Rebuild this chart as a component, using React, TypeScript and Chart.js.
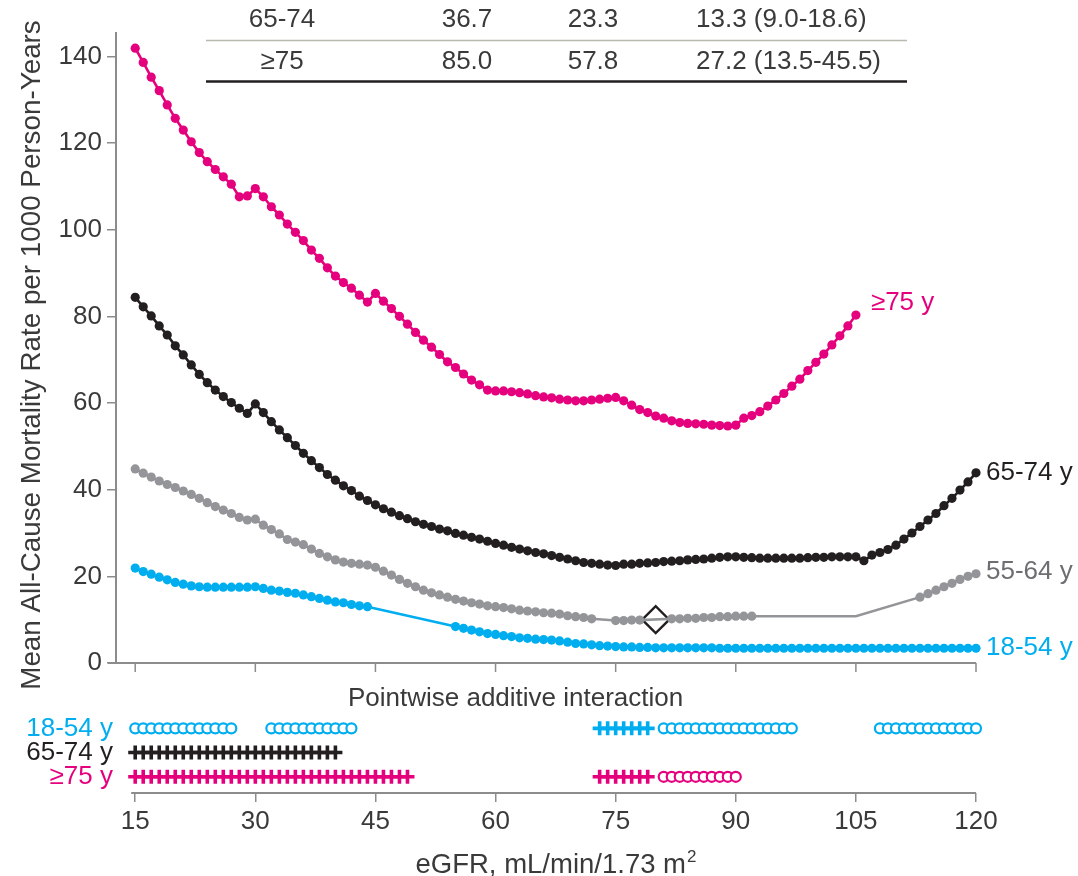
import React, { useEffect, useRef } from 'react';
import { Chart, registerables } from 'chart.js';

Chart.register(...registerables);

const FONT = "'Liberation Sans', Arial, Helvetica, sans-serif";
const TEXT = '#3a3a3a';
const AXIS = '#8c8c8c';
const PINK = '#e5007d';
const BLACK = '#231f20';
const GRAY = '#939598';
const CYAN = '#00aeef';

// eGFR grid, one estimate per mL/min/1.73 m²
const egfr = Array.from({ length: 106 }, (_, i) => 15 + i);

// Mean all-cause mortality rate per 1000 person-years, by age group (null = no estimate)
const rate1854 = [
  21.9, 21.1, 20.5, 19.8, 19.2, 18.6, 18.2, 17.8, 17.6, 17.5,
  17.5, 17.5, 17.5, 17.5, 17.5, 17.6, 17.2, 16.8, 16.6, 16.3,
  16.1, 15.7, 15.3, 14.9, 14.5, 14.1, 13.9, 13.5, 13.2, 13.0,
  null, null, null, null, null, null, null, null, null, null,
  8.4, 8.0, 7.6, 7.2, 6.8, 6.6, 6.3, 6.1, 5.8, 5.7,
  5.5, 5.4, 5.3, 5.1, 4.8, 4.5, 4.4, 4.2, 4.0, 3.9,
  3.8, 3.7, 3.7, 3.6, 3.6, 3.5, 3.5, 3.5, 3.5, 3.5,
  3.5, 3.5, 3.5, 3.4, 3.4, 3.4, 3.4, 3.4, 3.4, 3.4,
  3.4, 3.4, 3.4, 3.4, 3.4, 3.4, 3.4, 3.4, 3.4, 3.4,
  3.4, 3.4, 3.4, 3.4, 3.4, 3.4, 3.4, 3.4, 3.4, 3.4,
  3.4, 3.4, 3.4, 3.4, 3.4, 3.4,
];

const rate5564 = [
  44.8, 43.8, 42.9, 42.0, 41.2, 40.5, 39.7, 38.9, 38.0, 37.0,
  36.1, 35.3, 34.5, 33.6, 33.0, 33.2, 31.8, 30.8, 29.8, 28.5,
  27.9, 27.3, 26.3, 25.3, 24.5, 23.8, 23.3, 23.0, 22.8, 22.6,
  22.1, 21.2, 20.3, 19.3, 18.4, 17.6, 16.8, 16.2, 15.7, 15.2,
  14.7, 14.3, 13.9, 13.6, 13.2, 13.0, 12.8, 12.5, 12.2, 12.0,
  11.8, 11.6, 11.5, 11.3, 10.9, 10.7, 10.5, 10.2, null, null,
  9.8, 9.8, 9.9, 9.9, null, null, null, 10.2, 10.2, 10.3,
  10.3, 10.5, 10.5, 10.7, 10.7, 10.8, 10.8, 10.8, null, null,
  null, null, null, null, null, null, null, null, null, null,
  10.8, null, null, null, null, null, null, null, 15.2, 16.0,
  16.8, 17.6, 18.4, 19.3, 20.0, 20.6,
];
// eGFR values where the 55-64 y line bends without a marker
const lineOnly5564 = [105];

const rate6574 = [
  84.4, 82.2, 80.1, 77.8, 75.7, 73.2, 71.1, 68.8, 66.6, 64.7,
  63.0, 61.5, 60.1, 58.8, 57.6, 59.8, 57.8, 55.7, 53.8, 52.0,
  50.2, 48.4, 46.7, 45.1, 43.5, 42.2, 40.9, 39.8, 38.5, 37.5,
  36.5, 35.6, 34.8, 34.0, 33.3, 32.6, 32.0, 31.5, 30.9, 30.5,
  29.9, 29.5, 29.0, 28.6, 28.1, 27.6, 27.2, 26.7, 26.3, 25.9,
  25.5, 25.2, 24.8, 24.4, 24.0, 23.6, 23.2, 23.0, 22.8, 22.6,
  22.5, 22.8, 22.8, 23.0, 23.1, 23.2, 23.4, 23.5, 23.6, 23.8,
  23.9, 24.0, 24.2, 24.4, 24.5, 24.5, 24.4, 24.3, 24.2, 24.2,
  24.2, 24.2, 24.2, 24.2, 24.3, 24.4, 24.4, 24.5, 24.5, 24.5,
  24.5, 23.6, 24.9, 25.5, 26.2, 27.2, 28.6, 30.0, 31.5, 33.0,
  34.5, 36.3, 38.0, 39.9, 41.8, 43.9,
];

const rate75 = [
  141.9, 138.6, 135.2, 132.1, 128.8, 125.7, 123.0, 120.3, 117.8, 115.7,
  113.9, 112.2, 110.5, 107.6, 107.8, 109.5, 107.6, 105.3, 103.4, 101.3,
  99.4, 97.5, 95.3, 93.4, 91.2, 89.3, 87.8, 86.5, 84.9, 83.3,
  85.3, 83.5, 81.8, 80.0, 78.2, 76.3, 74.5, 72.9, 71.2, 69.5,
  68.2, 66.7, 65.3, 64.2, 63.0, 62.8, 62.8, 62.6, 62.4, 62.1,
  61.7, 61.4, 61.2, 60.9, 60.7, 60.5, 60.5, 60.7, 60.9, 61.1,
  61.3, 60.5, 59.5, 58.5, 57.8, 57.0, 56.5, 55.9, 55.5, 55.3,
  55.2, 55.1, 54.9, 54.8, 54.7, 54.9, 56.5, 57.1, 58.0, 59.3,
  60.7, 62.2, 63.9, 65.5, 67.5, 69.4, 71.3, 73.4, 75.5, 77.8,
  80.3,
];

// Reference point (55-64 y at eGFR 80)
const referenceEgfr = [80];
const referenceRate = [10.0];

const seriesNames = ['18-54 y', '55-64 y', '65-74 y', '≥75 y'];

// Pointwise additive interaction, runs of eGFR [first, last]
const interactionRows = ['18-54 y', '65-74 y', '≥75 y'];
const interactionColors = [CYAN, BLACK, PINK];
const plusRuns1854 = [[73, 79]];
const circleRuns1854 = [[15, 27], [32, 42], [81, 97], [108, 120]];
const plusRuns6574 = [[15, 40]];
const plusRuns75 = [[15, 49], [73, 79]];
const circleRuns75 = [[81, 90]];

const xTicks = [15, 30, 45, 60, 75, 90, 105, 120];
const yTicks = [0, 20, 40, 60, 80, 100, 120, 140];

const yTitle = 'Mean All-Cause Mortality Rate per 1000 Person-Years';

// Table rows: age group, column values, difference (95% CI)
const tableRows = [
  ['65-74', '36.7', '23.3', '13.3 (9.0-18.6)'],
  ['≥75', '85.0', '57.8', '27.2 (13.5-45.5)'],
];

const toPoints = (values: (number | null)[]) =>
  values.map((y, i) => ({ x: egfr[i], y }));

const runPoints = (runs: number[][], row: number) =>
  runs.flatMap(([a, b]) =>
    egfr.filter((v) => v >= a && v <= b).map((v) => ({ x: v, y: row }))
  );

const lastPoint = (values: (number | null)[]) => {
  for (let i = values.length - 1; i >= 0; i--) {
    if (values[i] != null) return { x: egfr[i], y: values[i] as number };
  }
  return { x: egfr[0], y: 0 };
};

const font = (size: number) => `${size}px ${FONT}`;

const overlay = {
  id: 'overlay',
  beforeDatasetsDraw(chart: any) {
    const { ctx } = chart;
    const x = chart.scales.x;
    const y = chart.scales.y;
    const y0 = y.getPixelForValue(0);
    ctx.save();
    ctx.strokeStyle = AXIS;
    ctx.lineWidth = 2;
    ctx.beginPath();
    ctx.moveTo(y.right - 8, y0);
    ctx.lineTo(x.right, y0);
    ctx.stroke();
    ctx.lineWidth = 1.5;
    ctx.beginPath();
    xTicks.forEach((v) => {
      const px = x.getPixelForValue(v);
      ctx.moveTo(px, y0);
      ctx.lineTo(px, y0 + 9);
    });
    ctx.stroke();
    // bottom axis line
    ctx.lineWidth = 2;
    ctx.beginPath();
    ctx.moveTo(x.getPixelForValue(xTicks[0]) - 4, x.top);
    ctx.lineTo(x.right, x.top);
    ctx.stroke();
    ctx.restore();
  },
  afterDraw(chart: any) {
    const { ctx } = chart;
    const x = chart.scales.x;
    const y = chart.scales.y;
    const strip = chart.scales.strip;
    ctx.save();

    // table
    ctx.font = font(26);
    ctx.fillStyle = TEXT;
    ctx.textBaseline = 'middle';
    const rowY = [20, 62];
    const colX = [282, 467, 593, 696];
    tableRows.forEach((row, r) => {
      row.forEach((cell, c) => {
        ctx.textAlign = c === 3 ? 'left' : 'center';
        ctx.fillText(cell, colX[c], rowY[r]);
      });
    });
    ctx.strokeStyle = '#b9b9ad';
    ctx.lineWidth = 1.3;
    ctx.beginPath();
    ctx.moveTo(206, 40.5);
    ctx.lineTo(907, 40.5);
    ctx.stroke();
    ctx.strokeStyle = BLACK;
    ctx.lineWidth = 2.6;
    ctx.beginPath();
    ctx.moveTo(206, 81.5);
    ctx.lineTo(907, 81.5);
    ctx.stroke();

    // y-axis title
    ctx.save();
    ctx.translate(32, 355);
    ctx.rotate(-Math.PI / 2);
    ctx.font = font(27.8);
    ctx.textAlign = 'center';
    ctx.fillStyle = TEXT;
    ctx.fillText(yTitle, 0, 0);
    ctx.restore();

    // series labels at line ends
    const ends = [rate1854, rate5564, rate6574, rate75].map(lastPoint);
    const colors = [CYAN, '#6d6e71', BLACK, PINK];
    const offsets = [[10, 0], [10, -2], [10, 0], [15, -12]];
    ctx.textAlign = 'left';
    ctx.font = font(26);
    ends.forEach((p, i) => {
      ctx.fillStyle = colors[i];
      ctx.fillText(
        seriesNames[i],
        x.getPixelForValue(p.x) + offsets[i][0],
        y.getPixelForValue(p.y) + offsets[i][1]
      );
    });

    // strip heading
    ctx.fillStyle = TEXT;
    ctx.textAlign = 'center';
    ctx.fillText('Pointwise additive interaction', x.getPixelForValue(62.5), strip.getPixelForValue(-0.24));

    // x-axis title with superscript
    const main = 'eGFR, mL/min/1.73 m';
    const sup = '2';
    ctx.font = font(27.5);
    const wMain = ctx.measureText(main).width;
    ctx.font = font(17);
    const wSup = ctx.measureText(sup).width;
    const startX = 556 - (wMain + wSup + 1) / 2;
    ctx.textAlign = 'left';
    ctx.textBaseline = 'alphabetic';
    ctx.font = font(27.5);
    ctx.fillText(main, startX, 873);
    ctx.font = font(17);
    ctx.fillText(sup, startX + wMain + 1, 862);

    ctx.restore();
  },
};

export default function App() {
  const ref = useRef<HTMLCanvasElement>(null);

  useEffect(() => {
    Chart.defaults.font.family = FONT;

    const lineDataset = (label: string, values: (number | null)[], color: string, extra: any = {}) => ({
      label,
      data: toPoints(values),
      yAxisID: 'y',
      borderColor: color,
      backgroundColor: color,
      pointBackgroundColor: color,
      pointBorderWidth: 0,
      pointRadius: 4.6,
      borderWidth: 2.6,
      spanGaps: true,
      tension: 0,
      clip: false,
      ...extra,
    });

    const markerDataset = (runs: number[][], row: number, color: string, kind: 'plus' | 'circle') => ({
      label: `${interactionRows[row - 1]} ${kind}`,
      data: runPoints(runs, row),
      yAxisID: 'strip',
      showLine: false,
      clip: false,
      pointStyle: kind === 'plus' ? 'cross' : 'circle',
      pointRadius: kind === 'plus' ? 7 : 5,
      pointBorderWidth: kind === 'plus' ? 3.6 : 2.2,
      pointBorderColor: color,
      pointBackgroundColor: '#ffffff',
      borderColor: color,
      backgroundColor: '#ffffff',
    });

    const chart = new Chart(ref.current as HTMLCanvasElement, {
      type: 'line',
      data: {
        datasets: [
          lineDataset(seriesNames[0], rate1854, CYAN),
          lineDataset(seriesNames[1], rate5564, GRAY, {
            pointRadius: (c: any) => (lineOnly5564.includes(c.raw?.x) ? 0 : 4.6),
          }),
          lineDataset(seriesNames[2], rate6574, BLACK),
          lineDataset(seriesNames[3], rate75, PINK),
          {
            label: 'Reference',
            data: referenceEgfr.map((v, i) => ({ x: v, y: referenceRate[i] })),
            yAxisID: 'y',
            showLine: false,
            clip: false,
            pointStyle: 'rectRot',
            pointRadius: 13.5,
            pointBorderWidth: 2.4,
            pointBorderColor: BLACK,
            pointBackgroundColor: '#ffffff',
          },
          markerDataset(circleRuns1854, 1, CYAN, 'circle'),
          markerDataset(plusRuns1854, 1, CYAN, 'plus'),
          markerDataset(plusRuns6574, 2, BLACK, 'plus'),
          markerDataset(plusRuns75, 3, PINK, 'plus'),
          markerDataset(circleRuns75, 3, PINK, 'circle'),
        ] as any,
      },
      options: {
        responsive: false,
        animation: false,
        events: [],
        layout: { padding: { left: 17, top: 33, right: 102, bottom: 39 } },
        plugins: { legend: { display: false }, tooltip: { enabled: false } },
        scales: {
          x: {
            type: 'linear',
            min: 12.6,
            max: 120,
            afterBuildTicks: (s: any) => {
              s.ticks = xTicks.map((value) => ({ value }));
            },
            afterFit: (s: any) => {
              s.height = 44;
            },
            border: { display: false },
            grid: { drawOnChartArea: false, drawTicks: true, tickLength: 9, color: AXIS, lineWidth: 1.5 },
            ticks: { font: { size: 26 }, color: TEXT, padding: 4, maxRotation: 0, autoSkip: false },
          },
          y: {
            type: 'linear',
            position: 'left',
            stack: 'panels',
            stackWeight: 630,
            weight: 1,
            min: 0,
            max: 145.4,
            afterBuildTicks: (s: any) => {
              s.ticks = yTicks.map((value) => ({ value }));
            },
            afterFit: (s: any) => {
              s.width = 99;
            },
            border: { display: true, color: AXIS, width: 2 },
            grid: { drawOnChartArea: false, drawTicks: true, tickLength: 9, color: AXIS, lineWidth: 1.5 },
            ticks: { font: { size: 26 }, color: TEXT, padding: 5 },
          },
          strip: {
            type: 'linear',
            position: 'left',
            stack: 'panels',
            stackWeight: 130,
            weight: 0,
            min: -1.7,
            max: 3.67,
            reverse: true,
            afterBuildTicks: (s: any) => {
              s.ticks = [1, 2, 3].map((value) => ({ value }));
            },
            afterFit: (s: any) => {
              s.width = 99;
            },
            border: { display: false },
            grid: { display: true, drawOnChartArea: false, drawTicks: false },
            ticks: {
              font: { size: 26 },
              padding: 3,
              color: (c: any) => interactionColors[c.index] ?? TEXT,
              callback: (v: any) => interactionRows[Number(v) - 1] ?? '',
            },
          },
        } as any,
      },
      plugins: [overlay],
    });

    return () => chart.destroy();
  }, []);

  return (
    <div style={{ position: 'fixed', left: 0, top: 0, width: 1078, height: 876, background: '#ffffff' }}>
      <canvas ref={ref} width={1078} height={876} style={{ display: 'block', width: 1078, height: 876 }} />
    </div>
  );
}
